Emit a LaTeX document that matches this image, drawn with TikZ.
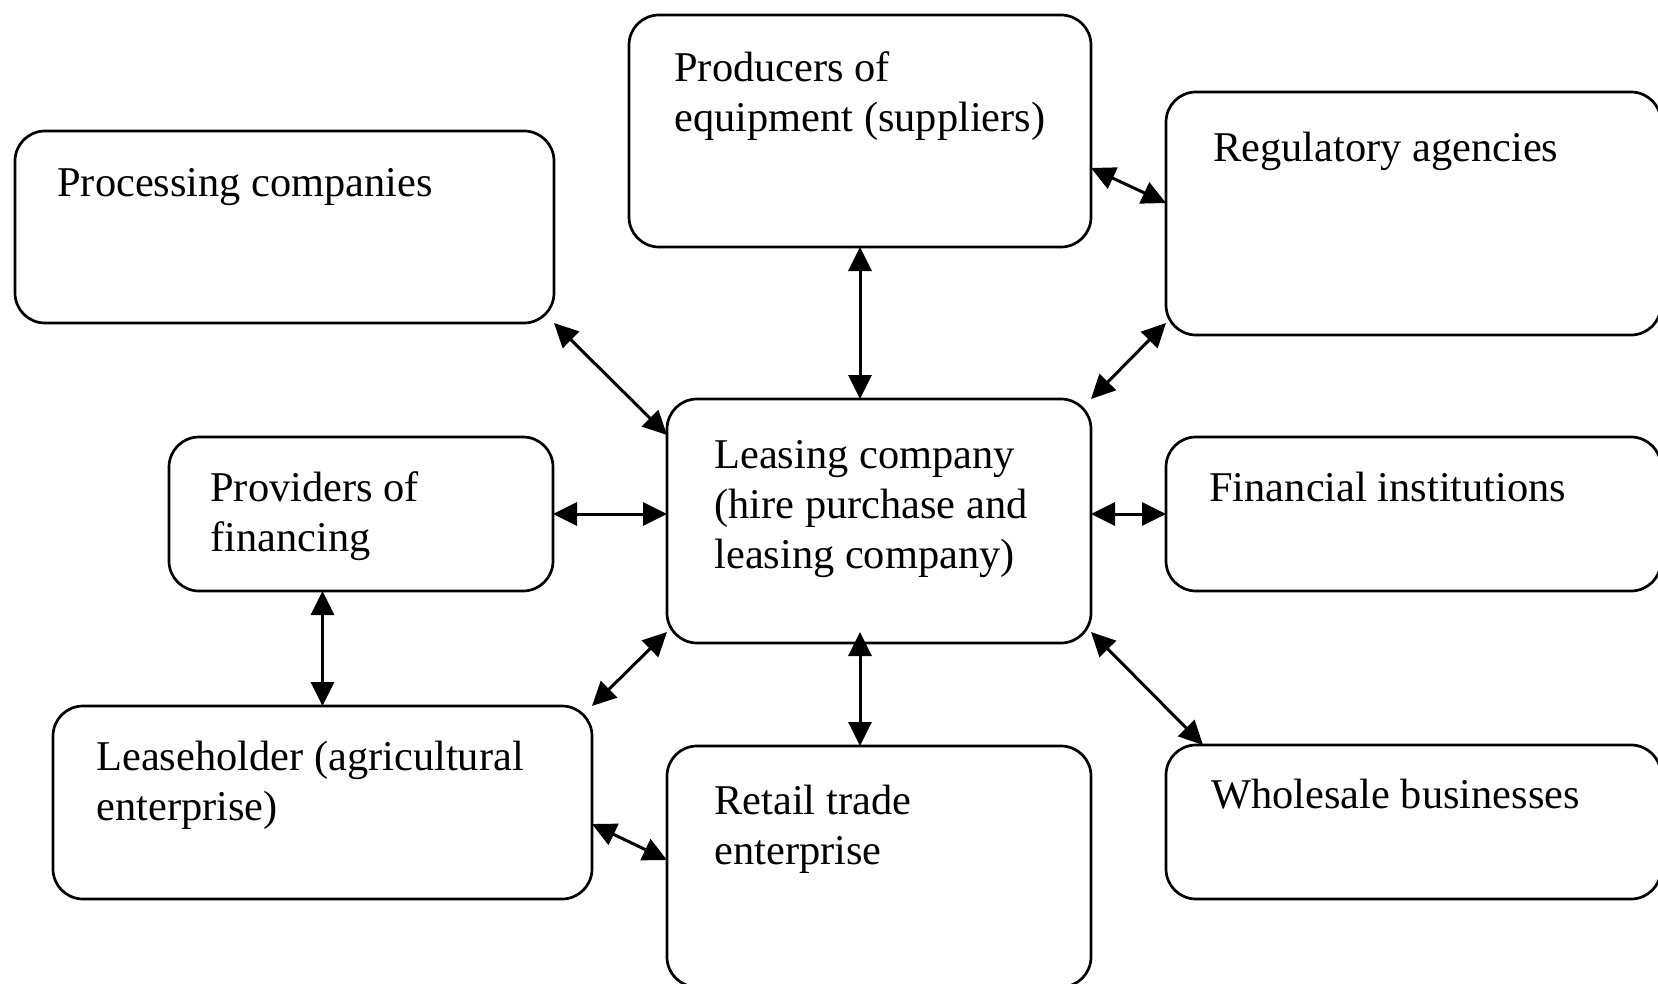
\documentclass[tikz,border=0pt]{standalone}
\usepackage{fontspec}
\setmainfont{Liberation Serif}
\usetikzlibrary{arrows.meta,calc}
\begin{document}
\begin{tikzpicture}[x=0.5pt,y=-0.5pt,
  box/.style={draw, line width=1.35pt, rounded corners=15pt, inner sep=0pt, outer sep=0pt},
  lbl/.style={anchor=base west, inner sep=0pt, align=left, font=\fontsize{21.2}{25}\selectfont},
  arr/.style={line width=1.5pt, {Triangle[length=12pt,width=11.5pt]}-{Triangle[length=12pt,width=11.5pt]}}]
\useasboundingbox (0,0) rectangle (1658,984);
% boxes
\node[box, minimum width=269.5pt, minimum height=96pt]   (proc)   at (284.5,227) {};
\node[box, minimum width=231pt,   minimum height=116pt]  (prod)   at (860,131) {};
\node[box, minimum width=247.5pt, minimum height=121.5pt] (reg)   at (1413.5,213.5) {};
\node[box, minimum width=212pt,   minimum height=122pt]  (lease)  at (879,521) {};
\node[box, minimum width=192pt,   minimum height=77pt]   (prov)   at (361,514) {};
\node[box, minimum width=247.5pt, minimum height=77pt]   (fin)    at (1413.5,514) {};
\node[box, minimum width=269.5pt, minimum height=96.5pt] (holder) at (322.5,802.5) {};
\node[box, minimum width=212pt,   minimum height=120.5pt] (retail) at (879,866.5) {};
\node[box, minimum width=247.5pt, minimum height=77pt]   (whole)  at (1413.5,822) {};
% texts (anchor = baseline of the last line)
\node[lbl] (tproc)   at (57,197)   {Processing companies};
\node[lbl] (tprod)   at (674,132)  {Producers of\\equipment (suppliers)};
\node[lbl] (treg)    at (1213,162) {Regulatory agencies};
\node[lbl] (tlease)  at (714,568)  {Leasing company\\(hire purchase and\\leasing company)};
\node[lbl] (tprov)   at (210,551)  {Providers of\\financing};
\node[lbl] (tfin)    at (1209,501) {Financial institutions};
\node[lbl] (tholder) at (96,820)   {Leaseholder (agricultural\\enterprise)};
\node[lbl] (tretail) at (714,864)  {Retail trade\\enterprise};
\node[lbl] (twhole)  at (1211,808) {Wholesale businesses};
% connectors
\draw[arr] (proc.south east) -- ($(lease.north west)+(0,36)$);
\draw[arr] (prod.south) -- (prod.south |- lease.north);
\draw[arr] ($(prod.north east)+(0,153)$) -- ($(reg.north west)+(0,111)$);
\draw[arr] ($(reg.south west)+(0,-12)$) -- (lease.north east);
\draw[arr] (prov.east) -- (prov.east -| lease.west);
\draw[arr] (fin.west -| lease.east) -- (fin.west);
\draw[arr] (holder.north |- prov.south) -- (holder.north);
\draw[arr] ($(lease.south west)+(0,-11)$) -- (holder.north east);
\draw[arr] ($(prod.south |- lease.south)+(0,-11)$) -- (prod.south |- retail.north);
\draw[arr] ($(holder.north east)+(0,118)$) -- ($(retail.north west)+(0,114)$);
\draw[arr] ($(lease.south east)+(0,-11)$) -- ($(whole.north west)+(37,0)$);
\end{tikzpicture}
\end{document}
